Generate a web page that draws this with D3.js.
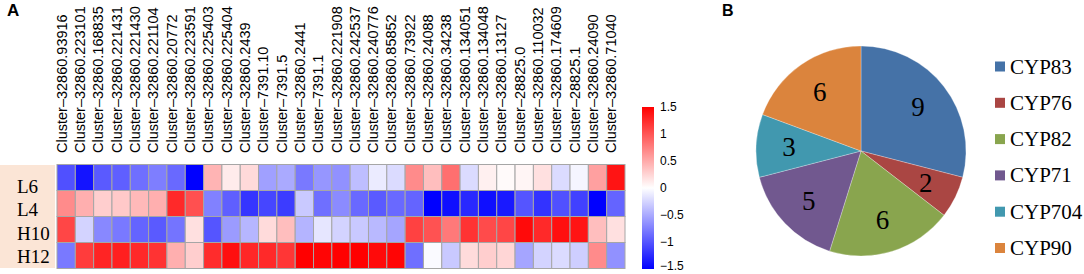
<!DOCTYPE html>
<html>
<head>
<meta charset="utf-8">
<script src="https://cdn.jsdelivr.net/npm/d3@7"></script>
<style>
  body { margin: 0; background: #fff; }
  svg { display: block; }
</style>
</head>
<body>
<div id="chart"></div>
<script>
// heatmap data
const clusters = [
  "32860.93916", "32860.223101", "32860.168835", "32860.221431", "32860.221430",
  "32860.221104", "32860.20772", "32860.223591", "32860.225403", "32860.225404",
  "32860.2439", "7391.10", "7391.5", "32860.2441", "7391.1",
  "32860.221908", "32860.242537", "32860.240776", "32860.85852", "32860.73922",
  "32860.24088", "32860.34238", "32860.134051", "32860.134048", "32860.13127",
  "28825.0", "32860.110032", "32860.174609", "28825.1", "32860.24090", "32860.71040"
];
const samples = ["L6", "L4", "H10", "H12"];

const valuesL6 = [-1.03, -1.38, -0.97, -0.94, -0.85, -0.76, -0.88, -1.5, 0.44, 0.12,
  0.22, -0.56, -0.5, -0.79, -0.62, -0.65, -0.38, -0.12, -0.21, 0.68,
  0.38, 0.85, -0.21, 0.09, 0.03, 0.06, 0.18, -0.21, -0.06, 0.56, 1.38];
const valuesL4 = [0.68, 0.47, 0.29, 0.32, 0.41, 0.47, 1.26, 1.03, -0.74, -0.94,
  -1.19, -1.09, -1.15, -0.32, -0.85, -0.68, -0.88, -0.97, -0.88, -0.91,
  -1.5, -1.41, -1.26, -1.41, -1.35, -1.0, -1.2, -1.03, -1.12, -1.5, -0.91];
const valuesH10 = [1.09, -0.26, -0.7, -0.79, -0.91, -0.97, -0.82, 0.18, -1.0, -0.59,
  -0.43, 0.21, 0.38, -0.44, -0.15, -0.26, -0.32, -0.41, -0.53, 1.12,
  1.02, 0.79, 1.2, 1.06, 1.09, 1.44, 1.26, 1.41, 1.38, 0.38, 0.18];
const valuesH12 = [-0.79, 1.15, 1.29, 1.32, 1.26, 1.2, 0.47, 0.29, 1.24, 1.41,
  1.27, 1.26, 1.18, 1.5, 1.47, 1.5, 1.5, 1.44, 1.47, -0.85,
  -0.03, -0.32, 0.21, 0.29, 0.24, -0.53, -0.26, -0.21, -0.29, 0.68, -0.65];
const colorTicks = [1.5, 1, 0.5, 0, -0.5, -1, -1.5];

// pie data
const families = ["CYP83", "CYP76", "CYP82", "CYP71", "CYP704", "CYP90"];
const familyCounts = [9, 2, 6, 5, 3, 6];
const familyColors = ["#4572a7", "#aa4643", "#89a54e", "#71588f", "#4198af", "#db843d"];

const width = 1084, height = 274;
const svg = d3.select("#chart").append("svg")
  .attr("width", width)
  .attr("height", height)
  .attr("viewBox", `0 0 ${width} ${height}`);

// panel letters
svg.append("text").attr("x", 7).attr("y", 16)
  .style("font", "bold 17px 'Liberation Sans', Arial, sans-serif").text("A");
svg.append("text").attr("x", 722).attr("y", 16)
  .style("font", "bold 16px 'Liberation Sans', Arial, sans-serif").text("B");

// ---- heatmap ----
const rowsData = [valuesL6, valuesL4, valuesH10, valuesH12];
const cells = [];
rowsData.forEach((vals, i) => vals.forEach((v, j) => cells.push({row: samples[i], col: clusters[j], value: v})));

const x = d3.scaleBand().domain(clusters).range([57, 625]);
const y = d3.scaleBand().domain(samples).range([164.5, 268.5]);
const color = d3.scaleLinear().domain([-1.5, 0, 1.5]).range(["#0000ff", "#ffffff", "#ff0000"]);

// row label panel
svg.append("rect")
  .attr("x", 0).attr("y", 165).attr("width", 55).attr("height", 103)
  .attr("fill", "#fbe5d6");

const yLabel = d3.scalePoint().domain(samples).range([186, 256.5]);
svg.selectAll("text.rowlabel")
  .data(samples)
  .join("text")
  .classed("rowlabel", true)
  .attr("x", 17)
  .attr("y", d => yLabel(d))
  .attr("dominant-baseline", "central")
  .style("font", "19px 'Liberation Serif', 'Times New Roman', serif")
  .text(d => d);

svg.append("g").selectAll("rect")
  .data(cells)
  .join("rect")
  .attr("x", d => x(d.col))
  .attr("y", d => y(d.row))
  .attr("width", x.bandwidth())
  .attr("height", y.bandwidth())
  .attr("fill", d => color(d.value))
  .attr("stroke", "#a6a6a6")
  .attr("stroke-width", 1);

svg.append("g").selectAll("text")
  .data(clusters)
  .join("text")
  .attr("transform", d => `translate(${x(d) + x.bandwidth() / 2 + 0.5},153) rotate(-90)`)
  .attr("text-anchor", "start")
  .style("font", "14.5px 'Liberation Sans', Arial, sans-serif")
  .text(d => "Cluster\u2013" + d);

// color bar
const cb = d3.scaleLinear().domain([-1.5, 1.5]).range([269, 107]);
const grad = svg.append("defs").append("linearGradient")
  .attr("id", "cbgrad").attr("x1", 0).attr("y1", 1).attr("x2", 0).attr("y2", 0);
grad.selectAll("stop")
  .data([-1.5, 0, 1.5])
  .join("stop")
  .attr("offset", d => (d + 1.5) / 3)
  .attr("stop-color", d => color(d));
svg.append("rect")
  .attr("x", 642).attr("y", cb(1.5))
  .attr("width", 12).attr("height", cb(-1.5) - cb(1.5))
  .attr("fill", "url(#cbgrad)");
svg.append("g").selectAll("text")
  .data(colorTicks)
  .join("text")
  .attr("x", 660)
  .attr("y", d => Math.min(cb(d), 266))
  .attr("dominant-baseline", "central")
  .style("font", "12px 'Liberation Sans', Arial, sans-serif")
  .text(d => d3.format("")(d).replace("-", "\u2212"));

// ---- pie ----
const pieData = families.map((f, i) => ({name: f, count: familyCounts[i], color: familyColors[i]}));
const pie = d3.pie().sort(null).value(d => d.count);
const arc = d3.arc().innerRadius(0).outerRadius(105);
const labelArc = d3.arc().innerRadius(72).outerRadius(72);
const pieG = svg.append("g").attr("transform", "translate(861,151)");

pieG.selectAll("path")
  .data(pie(pieData))
  .join("path")
  .attr("d", arc)
  .attr("fill", d => d.data.color)
  .attr("stroke", "#ffffff")
  .attr("stroke-opacity", 0.35)
  .attr("stroke-width", 0.8);

pieG.selectAll("text")
  .data(pie(pieData))
  .join("text")
  .attr("transform", d => `translate(${labelArc.centroid(d)})`)
  .attr("text-anchor", "middle")
  .attr("dominant-baseline", "central")
  .style("font", "27px 'Liberation Serif', 'Times New Roman', serif")
  .text(d => d.data.count);

// legend
const legend = svg.append("g").selectAll("g")
  .data(pieData)
  .join("g")
  .attr("transform", (d, i) => `translate(995,${66.5 + i * 36.3})`);
legend.append("rect")
  .attr("x", 0).attr("y", -5).attr("width", 10).attr("height", 10)
  .attr("fill", d => d.color);
legend.append("text")
  .attr("x", 15).attr("y", 0)
  .attr("dominant-baseline", "central")
  .style("font", "21px 'Liberation Serif', 'Times New Roman', serif")
  .text(d => d.name);
</script>
</body>
</html>
